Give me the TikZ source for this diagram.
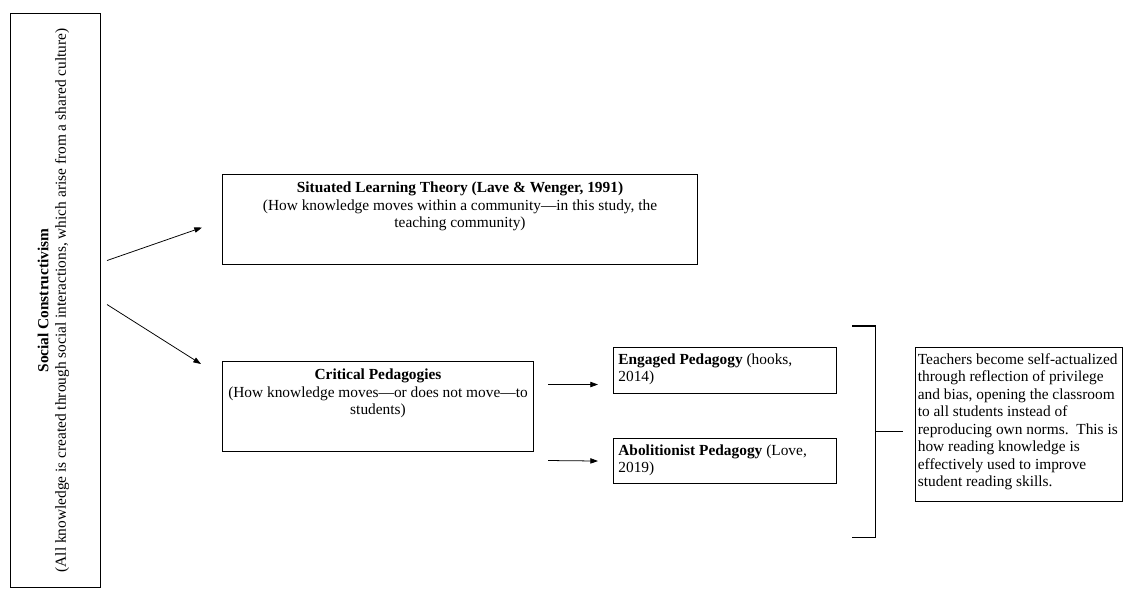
\documentclass[tikz,border=0pt]{standalone}
\usepackage{fontspec}
\setmainfont{Liberation Serif}
\usetikzlibrary{positioning,calc,arrows.meta}
\newcommand{\pxu}{0.78pt}

\begin{document}
\begin{tikzpicture}[x=0.78pt, y=-0.78pt,
  frame/.style={draw, line width=0.8pt, anchor=north west, inner sep=0pt},
  txt/.style={inner sep=0pt, font=\fontsize{12}{13.6}\selectfont},
  arr/.style={-{Triangle[length=6pt,width=4.2pt]}, line width=0.6pt}]
\useasboundingbox (0,0) rectangle (1125,588);
% boxes
\node[frame, minimum width=90*\pxu, minimum height=574*\pxu] (sc) at (10,13) {};
\node[frame, minimum width=475*\pxu, minimum height=90*\pxu] (slt) at (222,174) {};
\node[frame, minimum width=311*\pxu, minimum height=90*\pxu] (cp) at (222,361) {};
\node[frame, minimum width=223*\pxu, minimum height=46*\pxu] (eng) at (613,347) {};
\node[frame, minimum width=223*\pxu, minimum height=45*\pxu] (abl) at (613,438) {};
\node[frame, minimum width=207*\pxu, minimum height=154*\pxu] (rb) at (915,347) {};
% texts
\node[txt, rotate=90, align=center] (scText) at ($(sc.center)+(-2,0)$)
  {\textbf{Social Constructivism}\\(All knowledge is created through social interactions, which arise from a shared culture)};
\node[txt, align=center, below=6pt of slt.north] (sltText)
  {\textbf{Situated Learning Theory (Lave \& Wenger, 1991)}\\(How knowledge moves within a community---in this study, the\\teaching community)};
\node[txt, align=center, below=6pt of cp.north] (cpText)
  {\textbf{Critical Pedagogies}\\(How knowledge moves---or does not move---to\\students)};
\node[txt, align=left, below right=5pt and 4pt of eng.north west] (engText)
  {\textbf{Engaged Pedagogy} (hooks,\\2014)};
\node[txt, align=left, below right=5pt and 4pt of abl.north west] (ablText)
  {\textbf{Abolitionist Pedagogy} (Love,\\2019)};
\node[txt, align=left, below right=5pt and 2pt of rb.north west] (rbText)
  {Teachers become self-actualized\\through reflection of privilege\\and bias, opening the classroom\\to all students instead of\\reproducing own norms.\ \ This is\\how reading knowledge is\\effectively used to improve\\student reading skills.};
% arrows
\coordinate (sc1) at ($(sc.east)+(6,-40)$);
\coordinate (slt1) at ($(slt.west)+(-20,8)$);
\coordinate (sc2) at ($(sc.east)+(6,4)$);
\coordinate (cp1) at ($(cp.north west)+(-21,3)$);
\coordinate (cpE) at ($(cp.east)+(14,-22)$);
\coordinate (eng1) at ($(eng.west)+(-15,14)$);
\coordinate (cpA) at ($(cp.east)+(14,54)$);
\coordinate (abl1) at ($(abl.west)+(-15,0)$);
\draw[arr] (sc1) -- (slt1);
\draw[arr] (sc2) -- (cp1);
\draw[arr] (cpE) -- (eng1);
\draw[arr] (cpA) -- (abl1);
% bracket
\coordinate (brTop) at ($(eng.north east)+(15,-21)$);
\coordinate (brBot) at ($(abl.south east)+(15,53)$);
\coordinate (brMid) at ($(rb.west)+(-12,7)$);
\coordinate (brX) at ($(brBot)+(23,0)$);
\draw[line width=0.8pt] (brTop) -| (brX) -- (brBot);
\draw[line width=0.8pt] (brX |- brMid) -- (brMid);
\end{tikzpicture}
\end{document}
